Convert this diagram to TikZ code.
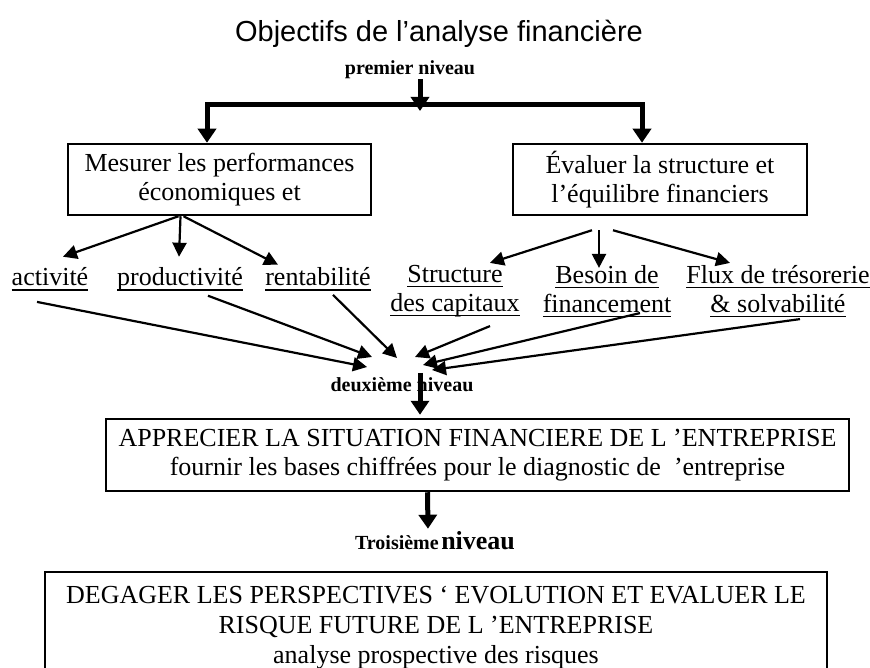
\documentclass[tikz,border=0pt]{standalone}
\usepackage{fontspec}
\setmainfont{Liberation Serif}
\newfontfamily\titlefont{Liberation Sans}
\newcommand\ulx[1]{\setbox0\hbox{#1}\rlap{\vrule height -3.5pt depth 4.7pt width \wd0}\box0}
\usetikzlibrary{arrows.meta,calc}
\begin{document}
\begin{tikzpicture}[x=1pt,y=-1pt,
  boxnode/.style={draw,line width=2.5pt,align=center,inner sep=0pt,font=\fontsize{26}{29}\selectfont},
  labnode/.style={align=center,inner sep=0pt,font=\fontsize{26}{29}\selectfont},
  lvlnode/.style={inner sep=0pt,font=\fontsize{20}{24}\selectfont\bfseries},
  bigarrow/.style={line width=5pt,-{Triangle[width=18pt,length=14pt]}},
  thinarrow/.style={line width=2.2pt,-{Triangle[width=14pt,length=14pt]}},
]
\useasboundingbox (0,0) rectangle (870,668);

% title and first level
\node[inner sep=0pt,anchor=base,font=\titlefont\fontsize{29}{33}\selectfont] (title) at (439,42) {Objectifs de l’analyse financière};
\node[lvlnode,anchor=base] (pn) at (410,75) {premier niveau};
\coordinate (bm) at (420,105);
\coordinate (bl) at (207,105);
\coordinate (br) at (642,105);
\coordinate (bt) at (420,111);

\node[boxnode,minimum width=303pt,minimum height=71pt] (b1) at (219.5,179.5) {Mesurer les performances\\économiques et};
\node[boxnode,minimum width=294pt,minimum height=71pt] (b2) at (660,179.5) {Évaluer la structure et\\l’équilibre financiers};

\draw[bigarrow] (pn.south -| bm) -- (bt);
\draw[bigarrow] (bm) -| (b1.north -| bl);
\draw[bigarrow] (bm) -| (b2.north -| br);

% labels
\node[labnode,anchor=base] (act) at (50,286) {\ulx{activité}};
\node[labnode,anchor=base] (prod) at (180,286) {\ulx{productivité}};
\node[labnode,anchor=base] (rent) at (318,286) {\ulx{rentabilité}};
\node[labnode] (cap) at (455,291) {\ulx{Structure}\\\ulx{des capitaux}};
\node[labnode] (bes) at (607,291) {\ulx{Besoin de}\\\ulx{financement}};
\node[labnode] (flux) at (778,291) {\ulx{Flux de trésorerie}\\\ulx{\& solvabilité}};

% upper thin arrows
\draw[thinarrow] ($(b1.south)+(-41,0)$) -- ($(act.north)+(13,-11)$);
\draw[thinarrow] ($(b1.south)+(-39,0)$) -- ($(prod.north)+(-1,-11)$);
\draw[thinarrow] ($(b1.south)+(-36,0)$) -- ($(rent.north)+(-40,-3)$);
\draw[thinarrow] ($(b2.south)+(-68,14)$) -- ($(cap.north)+(35,-2)$);
\draw[thinarrow] ($(b2.south)+(-61,14)$) -- ($(bes.north)+(-8,3)$);
\draw[thinarrow] ($(b2.south)+(-47,14)$) -- ($(flux.north)+(-48,-2)$);

% second level
\node[lvlnode,anchor=base] (dn) at (402,391) {deuxième niveau};
\coordinate (t1) at (367,367);
\coordinate (t2) at (372,357);
\coordinate (t3) at (397,358);
\coordinate (t4) at (415,357);
\coordinate (t5) at (423,365);
\coordinate (t6) at (432,370);
\draw[thinarrow] ($(act.south)+(-13,11)$) -- (t1);
\draw[thinarrow] ($(prod.south)+(28,4)$) -- (t2);
\draw[thinarrow] ($(rent.south)+(15,4)$) -- (t3);
\draw[thinarrow] ($(cap.south)+(35,9)$) -- (t4);
\draw[thinarrow] ($(bes.south)+(33,-4)$) -- (t5);
\draw[thinarrow] ($(flux.south)+(22,2)$) -- (t6);

\node[boxnode,minimum width=743pt,minimum height=72pt] (b3) at (477.5,455) {APPRECIER LA SITUATION FINANCIERE DE L ’ENTREPRISE\\fournir les bases chiffrées pour le diagnostic de\ \ ’entreprise};
\draw[bigarrow] ($(dn.north)+(18,-4)$) -- ($(b3.north)+(-57.5,-3)$);

% third level
\node[inner sep=0pt,anchor=base,font=\bfseries] (tn) at (435,549) {{\fontsize{20}{24}\selectfont Troisième} {\fontsize{26}{30}\selectfont niveau}};
\draw[bigarrow] ($(b3.south)+(-50,0)$) -- ($(tn.north)+(-7,-2)$);

\node[boxnode,line width=2pt,minimum width=782pt,minimum height=111pt,font=\fontsize{26}{30}\selectfont] (b4) at (436,627.5) {DEGAGER LES PERSPECTIVES ‘ EVOLUTION ET EVALUER LE\\RISQUE FUTURE DE L ’ENTREPRISE\\analyse prospective des risques};
\end{tikzpicture}
\end{document}
